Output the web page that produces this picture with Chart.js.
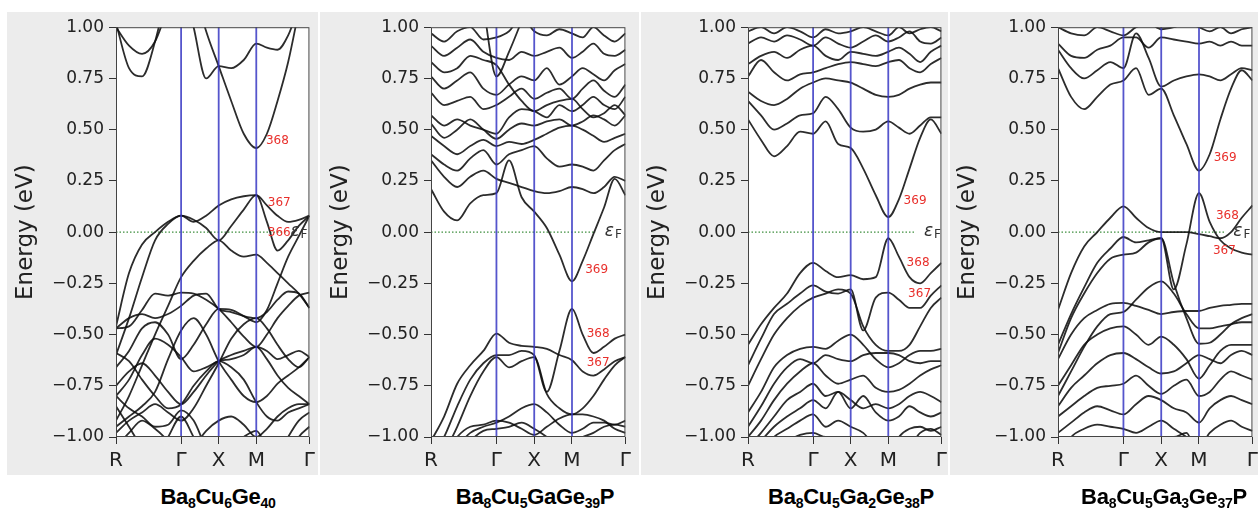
<!DOCTYPE html>
<html>
<head>
<meta charset="utf-8">
<script src="https://cdn.jsdelivr.net/npm/chart.js@4.4.1/dist/chart.umd.min.js"></script>
<style>
  html, body { margin: 0; padding: 0; background: #fff; }
  body { width: 1258px; height: 511px; position: relative; overflow: hidden; }
  .bg { position: absolute; top: 12px; height: 463px; background: #ececec; }
  canvas { position: absolute; top: 12px; }
  .ttl { position: absolute; top: 486px; transform: translateX(-50%); font: bold 22px "Liberation Sans", Arial, sans-serif;
         letter-spacing: -0.3px; line-height: 22px; white-space: nowrap; color: #000; }
  .ttl sub { font-size: 0.64em; vertical-align: -0.28em; line-height: 0; }
</style>
</head>
<body>
<div class="bg" style="left:7px;width:311px"></div>
<div class="bg" style="left:320px;width:319px"></div>
<div class="bg" style="left:641px;width:307px"></div>
<div class="bg" style="left:950px;width:308px"></div>

<canvas id="p1" width="313" height="463" style="left:7px"></canvas>
<canvas id="p2" width="314" height="463" style="left:322px"></canvas>
<canvas id="p3" width="313" height="463" style="left:639px"></canvas>
<canvas id="p4" width="314" height="463" style="left:949px"></canvas>

<div class="ttl" style="left:218px">Ba<sub>8</sub>Cu<sub>6</sub>Ge<sub>40</sub></div>
<div class="ttl" style="left:535px">Ba<sub>8</sub>Cu<sub>5</sub>GaGe<sub>39</sub>P</div>
<div class="ttl" style="left:851px">Ba<sub>8</sub>Cu<sub>5</sub>Ga<sub>2</sub>Ge<sub>38</sub>P</div>
<div class="ttl" style="left:1164px">Ba<sub>8</sub>Cu<sub>5</sub>Ga<sub>3</sub>Ge<sub>37</sub>P</div>

<script>
// k-path R - Γ - X - M - Γ (simple cubic, units of 2π/a)
const kPts = [0, 0.1732, 0.3464, 0.5196, 0.6928, 0.8660,
              1.0327, 1.1993, 1.3660,
              1.5327, 1.6993, 1.8660,
              2.0074, 2.1488, 2.2902, 2.4317, 2.5731];
const kTicks = [0, 0.8660, 1.3660, 1.8660, 2.5731];
const kTickLabels = ['R', 'Γ', 'X', 'M', 'Γ'];

const bandsGe40 = [
  [1.02, 0.80, 0.76, 0.93, 1.20, null, null, null, null, null, null, null, null, null, null, null, null],
  [1.00, 0.91, 0.87, 0.93, 1.10, null, null, null, null, null, null, null, null, null, null, null, null],
  [null, null, null, null, null, 1.25, 1.00, 0.75, 0.81, 0.80, 0.84, 0.92, 0.90, 0.89, 0.96, 1.10, null],
  [null, null, null, null, null, null, 1.20, 0.98, 0.81, 0.64, 0.48, 0.41, 0.48, 0.64, 0.83, 1.08, null],
  [-0.46, -0.20, -0.06, 0.00, 0.05, 0.08, 0.05, 0.08, 0.13, 0.16, 0.175, 0.18, 0.13, 0.08, 0.05, 0.06, 0.08],
  [-0.60, -0.42, -0.22, -0.04, 0.04, 0.08, 0.06, 0.02, -0.04, 0.03, 0.11, 0.18, 0.05, -0.09, -0.04, 0.03, 0.08],
  [-0.92, -0.80, -0.65, -0.50, -0.36, -0.22, -0.14, -0.08, -0.04, -0.09, -0.12, -0.11, -0.15, -0.20, -0.25, -0.30, -0.37],
  [-0.47, -0.46, -0.38, -0.30, -0.31, -0.295, -0.30, -0.33, -0.375, -0.44, -0.51, -0.56, -0.50, -0.42, -0.36, -0.31, -0.295],
  [-0.47, -0.42, -0.40, -0.42, -0.40, -0.36, -0.31, -0.30, -0.375, -0.39, -0.41, -0.42, -0.39, -0.33, -0.29, -0.30, -0.37],
  [-0.66, -0.58, -0.47, -0.44, -0.50, -0.62, -0.55, -0.45, -0.375, -0.38, -0.41, -0.44, -0.38, -0.25, -0.12, -0.02, 0.08],
  [-0.80, -0.72, -0.60, -0.52, -0.55, -0.61, -0.68, -0.66, -0.63, -0.62, -0.60, -0.56, -0.58, -0.62, -0.60, -0.58, -0.61],
  [-0.95, -0.90, -0.85, -0.78, -0.62, -0.48, -0.42, -0.50, -0.63, -0.72, -0.80, -0.83, -0.80, -0.74, -0.70, -0.66, -0.61],
  [-0.59, -0.63, -0.72, -0.80, -0.86, -0.84, -0.75, -0.68, -0.63, -0.66, -0.72, -0.83, -0.90, -0.92, -0.88, -0.86, -0.84],
  [-0.80, -0.86, -0.90, -0.95, -0.94, -0.87, -0.92, -1.05, -1.10, -1.05, -1.00, -0.97, -1.05, -1.10, -1.00, -0.92, -0.88],
  [-0.85, -0.95, -1.05, -1.10, -1.00, -0.90, -1.00, -1.10, -1.20, -1.20, -1.10, -1.10, -1.10, -1.20, -1.10, -1.00, -0.95],
  [-1.05, -0.98, -0.92, -0.96, -1.02, -1.10, -1.05, -0.97, -0.92, -0.90, -0.94, -1.00, -0.96, -0.90, -0.86, -0.84, -0.84],
  [-0.75, -0.68, -0.64, -0.70, -0.78, -0.84, -0.78, -0.70, -0.63, -0.60, -0.58, -0.56, -0.62, -0.70, -0.76, -0.80, -0.84],
  [-0.98, -0.92, -0.88, -0.84, -0.88, -0.92, -0.86, -0.75, -0.64, -0.52, -0.45, -0.42, -0.47, -0.55, -0.62, -0.66, -0.61]
];

const bandsGe39 = [
  [0.21, 0.10, 0.057, 0.14, 0.18, 0.19, 0.35, 0.17, 0.10, 0.02, -0.11, -0.24, -0.14, -0.01, 0.12, 0.26, 0.18],
  [0.35, 0.27, 0.22, 0.27, 0.30, 0.26, 0.24, 0.22, 0.20, 0.19, 0.20, 0.22, 0.21, 0.19, 0.22, 0.27, 0.25],
  [0.38, 0.33, 0.30, 0.36, 0.40, 0.33, 0.38, 0.40, 0.42, 0.36, 0.32, 0.33, 0.32, 0.30, 0.35, 0.40, 0.43],
  [0.47, 0.42, 0.38, 0.42, 0.45, 0.42, 0.44, 0.43, 0.45, 0.48, 0.51, 0.52, 0.50, 0.47, 0.44, 0.46, 0.48],
  [0.53, 0.46, 0.50, 0.55, 0.50, 0.455, 0.50, 0.53, 0.52, 0.54, 0.55, 0.52, 0.54, 0.57, 0.55, 0.52, 0.57],
  [0.57, 0.52, 0.55, 0.52, 0.50, 0.48, 0.56, 0.60, 0.59, 0.56, 0.62, 0.59, 0.62, 0.66, 0.62, 0.60, 0.66],
  [0.68, 0.62, 0.64, 0.66, 0.60, 0.62, 0.66, 0.70, 0.65, 0.68, 0.70, 0.65, 0.70, 0.74, 0.69, 0.66, 0.72],
  [0.76, 0.70, 0.74, 0.78, 0.70, 0.67, 0.72, 0.76, 0.74, 0.80, 0.72, 0.76, 0.80, 0.77, 0.74, 0.79, 0.82],
  [0.83, 0.78, 0.80, 0.86, 0.84, 0.815, 0.72, 0.64, 0.59, 0.62, 0.64, 0.65, 0.60, 0.56, 0.58, 0.62, 0.57],
  [0.91, 0.86, 0.90, 0.94, 0.88, 0.85, 0.84, 0.88, 0.86, 0.88, 0.90, 0.85, 0.88, 0.92, 0.87, 0.86, 0.89],
  [0.97, 0.93, 0.98, 1.00, 0.94, 0.95, 0.98, 1.05, 0.98, 0.96, 0.99, 0.97, 0.95, 1.00, 0.96, 0.93, 0.97],
  [null, null, null, null, 1.10, 0.76, 0.88, 1.03, null, null, null, null, null, null, null, null, null],
  [-1.02, -0.90, -0.74, -0.65, -0.58, -0.495, -0.54, -0.555, -0.56, -0.57, -0.60, -0.625, -0.68, -0.70, -0.67, -0.63, -0.61],
  [-1.10, -1.00, -0.85, -0.72, -0.64, -0.60, -0.60, -0.58, -0.60, -0.78, -0.58, -0.375, -0.50, -0.59, -0.56, -0.52, -0.50],
  [-1.20, -1.08, -0.95, -0.80, -0.68, -0.61, -0.66, -0.63, -0.61, -0.79, -0.86, -0.89, -0.86, -0.80, -0.72, -0.65, -0.61],
  [-1.20, -1.15, -1.05, -0.98, -0.95, -0.93, -0.90, -0.86, -0.84, -0.88, -0.94, -0.98, -0.96, -0.93, -0.93, -0.94, -0.92],
  [-1.20, -1.10, -1.00, -0.95, -0.94, -0.92, -0.93, -0.96, -0.99, -0.95, -0.91, -0.89, -0.89, -0.90, -0.92, -0.96, -0.98],
  [-1.30, -1.20, -1.10, -1.02, -0.97, -0.96, -0.95, -0.93, -0.96, -1.00, -1.05, -1.02, -1.00, -0.98, -0.95, -0.94, -0.95]
];

const bandsGe38 = [
  [0.55, 0.45, 0.37, 0.42, 0.49, 0.48, 0.54, 0.43, 0.41, 0.31, 0.18, 0.073, 0.16, 0.31, 0.46, 0.55, 0.48],
  [-0.55, -0.45, -0.37, -0.30, -0.20, -0.15, -0.19, -0.22, -0.21, -0.23, -0.22, -0.03, -0.12, -0.22, -0.25, -0.20, -0.15],
  [-0.65, -0.52, -0.40, -0.35, -0.30, -0.26, -0.29, -0.30, -0.28, -0.48, -0.32, -0.295, -0.33, -0.37, -0.37, -0.31, -0.26],
  [-0.75, -0.62, -0.50, -0.42, -0.36, -0.32, -0.30, -0.28, -0.30, -0.46, -0.55, -0.58, -0.58, -0.55, -0.46, -0.37, -0.32],
  [-0.88, -0.78, -0.66, -0.60, -0.57, -0.56, -0.57, -0.53, -0.50, -0.55, -0.62, -0.66, -0.64, -0.60, -0.58, -0.58, -0.57],
  [-0.95, -0.85, -0.74, -0.66, -0.62, -0.64, -0.60, -0.62, -0.63, -0.60, -0.59, -0.59, -0.60, -0.63, -0.64, -0.63, -0.63],
  [-1.00, -0.92, -0.82, -0.74, -0.68, -0.64, -0.70, -0.74, -0.72, -0.70, -0.76, -0.78, -0.77, -0.74, -0.70, -0.67, -0.65],
  [-1.05, -0.98, -0.90, -0.82, -0.78, -0.74, -0.80, -0.78, -0.82, -0.86, -0.84, -0.86, -0.84, -0.80, -0.78, -0.80, -0.83],
  [-1.10, -1.02, -0.95, -0.90, -0.86, -0.82, -0.86, -0.78, -0.86, -0.80, -0.88, -0.92, -0.90, -0.85, -0.88, -0.90, -0.88],
  [-1.15, -1.08, -1.00, -0.96, -0.92, -0.89, -0.95, -0.92, -0.95, -0.98, -1.05, -1.10, -1.00, -0.96, -0.95, -0.97, -0.95],
  [-1.20, -1.12, -1.06, -1.02, -0.99, -0.98, -1.00, -1.00, -1.00, -1.05, -1.10, -1.20, -1.10, -1.05, -0.98, -0.96, -0.99],
  [0.64, 0.57, 0.50, 0.53, 0.57, 0.58, 0.66, 0.60, 0.51, 0.49, 0.50, 0.54, 0.51, 0.48, 0.52, 0.56, 0.56],
  [0.685, 0.64, 0.62, 0.65, 0.70, 0.73, 0.75, 0.74, 0.73, 0.70, 0.67, 0.66, 0.67, 0.70, 0.72, 0.73, 0.73],
  [0.76, 0.84, 0.78, 0.74, 0.77, 0.78, 0.80, 0.82, 0.83, 0.82, 0.81, 0.83, 0.84, 0.80, 0.78, 0.82, 0.85],
  [0.82, 0.86, 0.88, 0.85, 0.89, 0.91, 0.86, 0.84, 0.88, 0.87, 0.86, 0.88, 0.90, 0.87, 0.83, 0.88, 0.91],
  [0.92, 0.95, 0.93, 0.96, 0.94, 0.91, 0.95, 0.92, 0.90, 0.93, 0.96, 0.93, 0.95, 0.98, 0.93, 0.92, 0.95],
  [0.98, 1.00, 0.97, 1.00, 0.98, 0.95, 0.99, 0.97, 0.98, 1.00, 0.98, 0.96, 1.00, 0.97, 0.99, 1.00, 0.98]
];

const bandsGe37 = [
  [0.80, 0.66, 0.60, 0.66, 0.72, 0.74, 0.80, 0.67, 0.70, 0.57, 0.43, 0.30, 0.38, 0.55, 0.70, 0.79, 0.74],
  [0.89, 0.80, 0.75, 0.79, 0.83, 0.80, 0.97, 0.85, 0.71, 0.74, 0.76, 0.77, 0.76, 0.74, 0.77, 0.80, 0.79],
  [0.92, 0.86, 0.85, 0.89, 0.91, 0.95, 0.95, 0.90, 0.95, 0.94, 0.93, 0.92, 0.93, 0.91, 0.93, 0.91, 0.91],
  [1.00, 0.97, 0.96, 1.00, 0.98, 0.96, 1.00, 1.02, 0.99, 1.00, 1.02, 1.00, 0.98, 1.00, 0.97, 0.99, 1.00],
  [-0.38, -0.20, -0.07, 0.00, 0.07, 0.126, 0.07, 0.02, 0.00, 0.00, 0.00, -0.01, -0.02, -0.03, 0.00, 0.07, 0.13],
  [-0.55, -0.40, -0.27, -0.15, -0.08, -0.024, -0.05, -0.04, -0.03, -0.28, -0.06, 0.19, 0.05, -0.04, -0.08, -0.10, -0.11],
  [-0.59, -0.42, -0.30, -0.20, -0.13, -0.11, -0.10, -0.05, -0.03, -0.25, -0.42, -0.545, -0.54, -0.50, -0.45, -0.42, -0.40],
  [-0.80, -0.68, -0.56, -0.46, -0.40, -0.39, -0.33, -0.27, -0.24, -0.30, -0.40, -0.47, -0.47, -0.46, -0.45, -0.44, -0.44],
  [-0.62, -0.50, -0.42, -0.38, -0.35, -0.345, -0.36, -0.38, -0.40, -0.39, -0.385, -0.385, -0.37, -0.36, -0.355, -0.35, -0.35],
  [-0.75, -0.65, -0.55, -0.50, -0.47, -0.46, -0.50, -0.55, -0.51, -0.55, -0.62, -0.715, -0.65, -0.58, -0.55, -0.55, -0.55],
  [-0.85, -0.76, -0.70, -0.64, -0.60, -0.59, -0.62, -0.66, -0.69, -0.68, -0.64, -0.60, -0.62, -0.64, -0.60, -0.58, -0.60],
  [-0.90, -0.85, -0.80, -0.76, -0.75, -0.74, -0.70, -0.75, -0.79, -0.75, -0.72, -0.80, -0.78, -0.72, -0.68, -0.70, -0.72],
  [-0.98, -0.93, -0.88, -0.85, -0.87, -0.89, -0.84, -0.80, -0.82, -0.86, -0.88, -0.93, -0.86, -0.82, -0.80, -0.82, -0.84],
  [-1.10, -1.00, -0.96, -0.94, -0.95, -0.96, -0.98, -0.95, -0.92, -0.96, -1.00, -1.05, -0.98, -0.94, -0.92, -0.95, -0.97],
  [-1.20, -1.10, -1.05, -1.00, -1.02, -1.05, -1.10, -1.05, -1.00, -1.00, -0.98, -1.10, -1.10, -1.05, -1.00, -1.02, -1.05]
];

// band index tags: [text, k, energy]
const tagsGe40 = [['368', 1.995, 0.447], ['367', 2.02, 0.141], ['366', 2.02, -0.005]];
const tagsGe39 = [['369', 2.04, -0.184], ['368', 2.06, -0.495], ['367', 2.06, -0.64]];
const tagsGe38 = [['369', 2.07, 0.15], ['368', 2.11, -0.15], ['367', 2.13, -0.30]];
const tagsGe37 = [['369', 2.06, 0.364], ['368', 2.09, 0.078], ['367', 2.05, -0.092]];

// Fermi level: dotted line end and εF label position (k)
const fermiEnd = [2.28, 2.18, 2.22, 2.22];
const fermiLabelK = [2.32, 2.30, 2.34, 2.32];

const fmt = v => (v < -1e-9 ? '\u2212' : '') + Math.abs(v).toFixed(2);

const decor = {
  id: 'decor',
  beforeDraw(chart) {
    const { ctx, chartArea: a } = chart;
    ctx.save();
    ctx.fillStyle = '#fff';
    ctx.fillRect(a.left, a.top, a.right - a.left, a.bottom - a.top);
    ctx.restore();
  },
  afterDatasetsDraw(chart, args, opts) {
    const { ctx, chartArea: a } = chart;
    const x = chart.scales.x, y = chart.scales.y;
    ctx.save();
    // high-symmetry lines
    ctx.strokeStyle = 'rgba(55,55,195,0.85)';
    ctx.lineWidth = 1.8;
    kTicks.slice(1, -1).forEach(k => {
      const px = x.getPixelForValue(k);
      ctx.beginPath();
      ctx.moveTo(px, a.top);
      ctx.lineTo(px, a.bottom);
      ctx.stroke();
    });
    // frame
    ctx.strokeStyle = '#444';
    ctx.lineWidth = 1;
    ctx.strokeRect(a.left + 0.5, a.top + 0.5, a.right - a.left - 1, a.bottom - a.top - 1);
    // band tags
    ctx.fillStyle = '#e8302c';
    ctx.font = '12px "DejaVu Sans"';
    ctx.textAlign = 'left';
    ctx.textBaseline = 'middle';
    opts.tags.forEach(([t, k, e]) => ctx.fillText(t, x.getPixelForValue(k), y.getPixelForValue(e)));
    // εF
    const ex = x.getPixelForValue(opts.efK), ey = y.getPixelForValue(0);
    ctx.fillStyle = '#333';
    ctx.font = 'italic 17px "DejaVu Sans"';
    ctx.fillText('ε', ex, ey - 1);
    const w = ctx.measureText('ε').width;
    ctx.font = '12px "DejaVu Sans"';
    ctx.fillText('F', ex + w + 1, ey + 3);
    // y title
    ctx.translate(a.left - 90, (a.top + a.bottom) / 2);
    ctx.rotate(-Math.PI / 2);
    ctx.fillStyle = '#222';
    ctx.font = '23px "DejaVu Sans"';
    ctx.textAlign = 'center';
    ctx.fillText('Energy (eV)', 0, 0);
    ctx.restore();
  }
};

function makeChart(id, bands, tags, efEnd, efK) {
  const datasets = bands.map(b => ({
    data: b.map((e, i) => ({ x: kPts[i], y: e })),
    borderColor: 'rgba(15,15,15,0.88)',
    borderWidth: 1.8,
    pointRadius: 0,
    cubicInterpolationMode: 'monotone'
  }));
  datasets.push({
    data: [{ x: 0, y: 0 }, { x: efEnd, y: 0 }],
    borderColor: '#3f8f3f',
    borderWidth: 1.4,
    borderDash: [1.5, 2],
    pointRadius: 0
  });

  new Chart(document.getElementById(id), {
    type: 'line',
    data: { datasets },
    options: {
      responsive: false,
      animation: false,
      devicePixelRatio: 1,
      layout: { padding: { top: 13, right: 8, left: 0, bottom: 0 } },
      plugins: {
        legend: { display: false },
        tooltip: { enabled: false },
        decor: { tags, efK }
      },
      scales: {
        x: {
          type: 'linear',
          min: 0,
          max: kPts[kPts.length - 1],
          afterBuildTicks: ax => { ax.ticks = kTicks.map(v => ({ value: v })); },
          afterFit: s => { s.height = 38; },
          ticks: {
            callback: (v, i) => kTickLabels[i],
            autoSkip: false,
            maxRotation: 0,
            color: '#222',
            padding: 5,
            font: { family: 'DejaVu Sans', size: 20 }
          },
          grid: { display: true, drawOnChartArea: false, tickLength: 7, tickColor: '#333' },
          border: { display: false }
        },
        y: {
          min: -1,
          max: 1,
          afterFit: s => { s.width = 109; },
          ticks: {
            stepSize: 0.25,
            callback: v => fmt(v),
            color: '#222',
            padding: 5,
            font: { family: 'DejaVu Sans', size: 17 }
          },
          grid: { display: true, drawOnChartArea: false, tickLength: 7, tickColor: '#333' },
          border: { display: false }
        }
      }
    },
    plugins: [decor]
  });
}

makeChart('p1', bandsGe40, tagsGe40, fermiEnd[0], fermiLabelK[0]);
makeChart('p2', bandsGe39, tagsGe39, fermiEnd[1], fermiLabelK[1]);
makeChart('p3', bandsGe38, tagsGe38, fermiEnd[2], fermiLabelK[2]);
makeChart('p4', bandsGe37, tagsGe37, fermiEnd[3], fermiLabelK[3]);
</script>
</body>
</html>
